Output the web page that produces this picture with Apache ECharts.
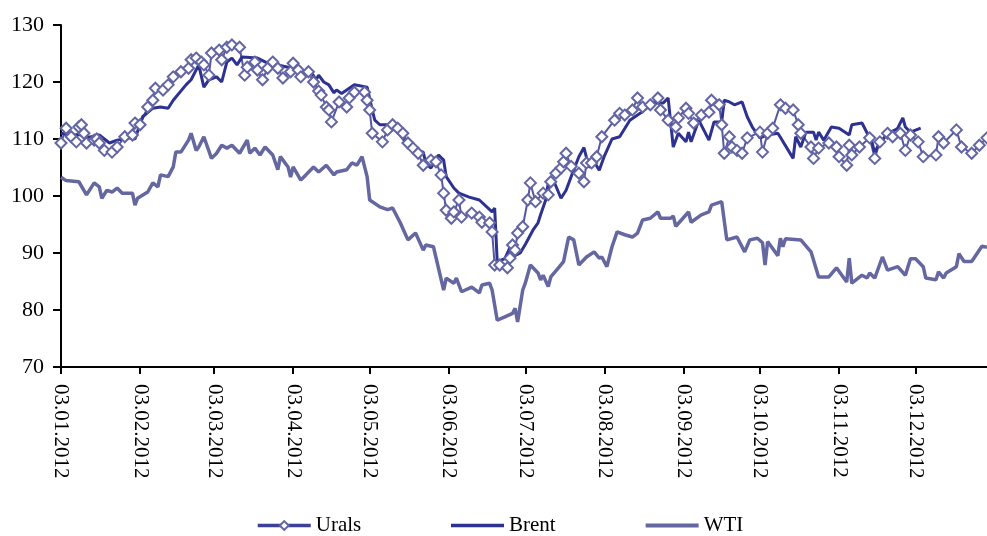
<!DOCTYPE html>
<html>
<head>
<meta charset="utf-8">
<script src="https://cdn.jsdelivr.net/npm/echarts@6/dist/echarts.min.js"></script>
<style>
  html, body { margin: 0; padding: 0; background: #fff; }
  #chart { width: 987px; height: 536px; }
</style>
</head>
<body>
<div id="chart"></div>
<script>
// x = days since 03.01.2012
const tickDays = [0, 31, 60, 91, 121, 152, 182, 213, 244, 274, 305, 335];
const tickLabels = ['03.01.2012', '03.02.2012', '03.03.2012', '03.04.2012', '03.05.2012', '03.06.2012',
  '03.07.2012', '03.08.2012', '03.09.2012', '03.10.2012', '03.11.2012', '03.12.2012'];

// Urals (diamonds)
const uralsDay = [0,2,4,6,7,8,9,10,13,14, 15,17,20,22,25,28,29,31,34,36, 37,40,42,44,47,50,51,53,55,56,
  58,59,62,63,65,67,70,72,73,76, 77,79,81,83,85,87,90,91,93,94, 97,99,101,102,104,105,106,109,112,113,
  115,119,120,121,122,126,128,130,132,134, 136,138,140,142,145,147,149,150,151,153,
  154,156,157,161,164,165,168,169,170,172, 175,176,177,178,179,181,183,184,186,189,
  191,192,194,196,197,198,200,203,205,206, 208,210,212,217,219,221,224,226,228,231,
  234,235,238,241,242,245,246,248,251,254, 255,258,259,260,262,263,265,267,269,274,
  275,277,279,282,284,287,289,290,294,295, 297,301,304,305,308,309,310,313,317,319,
  321,324,326,329,331,333,336,338,343,344, 346,351,353,357,360,363];
const uralsVal = [109.3,111.9,110.4,109.5,112.1,112.5,111.0,109.3,109.8,110.0,
  109.3,108.0,107.7,108.6,110.4,110.7,112.8,112.5,115.6,116.8,
  118.9,118.6,119.5,120.9,121.8,122.4,123.9,124.2,123.5,123.0,
  121.2,125.1,125.6,123.9,126.1,126.5,126.1,121.2,122.6,123.5,
  122.1,120.4,122.4,123.5,122.4,120.7,121.8,123.3,122.1,120.9,
  121.8,120.0,118.4,117.7,115.6,115.1,113.0,116.5,115.6,117.2,
  118.2,118.2,116.8,115.1,111.0,109.5,111.6,112.5,111.9,111.0,
  109.3,108.4,107.5,105.4,106.3,106.0,103.7,100.5,97.5,96.1,
  97.2,99.3,96.3,97.0,96.3,95.4,95.3,93.7,87.9,87.9,
  87.4,89.1,91.4,90.5,93.5,94.6,99.3,102.3,99.0,100.5,
  100.2,102.5,104.0,104.9,106.0,107.5,105.2,104.0,102.5,105.8,
  105.8,106.9,110.4,113.3,114.5,114.2,115.1,117.2,115.6,116.0,
  117.2,115.1,113.3,112.1,113.7,115.4,114.5,112.8,114.2,114.7,
  116.8,116.0,112.5,107.5,110.4,108.6,108.0,107.5,110.2,111.2,
  107.7,111.0,111.9,116.0,115.4,115.1,112.5,111.0,108.6,106.6,
  108.4,109.3,108.6,106.9,105.4,108.9,107.2,108.6,110.2,106.6,
  109.5,111.0,110.4,111.0,108.0,110.7,109.5,106.9,107.2,110.4,
  109.3,111.6,108.6,107.5,108.9,110.2];

// Brent
const brentDay = [0,4,7,11,15,19,22,27,29,32, 36,39,42,44,49,51,54,56,58,61,
  63,65,67,69,71,77,81,85,89,94, 98,100,101,103,105,107,108,110,115,120,
  122,123,125,128,132,137,139,142,143,145, 148,150,151,154,156,160,164,169,170,171,
  174,176,177,180,182,185,187,188,190,191, 193,196,198,201,203,205,207,209,211,213,
  216,219,223,227,232,236,238,240,242,245, 246,247,250,254,256,259,260,262,264,267,
  269,271,274,277,281,282,287,288,290,292, 295,296,297,299,302,305,309,310,314,318,
  319,320,324,327,328,330,331,333,337];
const brentVal = [111.0,110.6,110.8,110.3,110.7,109.3,109.8,110.2,110.0,113.9,
  115.4,115.6,115.4,116.8,119.5,120.4,123.0,119.1,120.4,120.9,
  120.0,123.5,124.2,123.0,124.4,124.2,123.3,123.0,122.6,122.1,
  121.8,120.4,121.2,120.0,119.5,118.1,118.6,118.0,119.5,119.1,
  115.1,113.3,112.5,112.5,111.2,108.4,107.7,107.7,105.8,104.9,
  107.2,106.3,103.4,101.4,100.5,99.8,99.3,97.2,97.9,88.5,
  89.0,91.0,89.3,90.0,91.5,94.0,95.3,96.7,99.3,102.3,
  102.8,99.6,101.0,104.6,106.9,108.5,105.0,106.0,104.5,107.0,
  110.0,110.4,113.3,114.5,116.3,116.3,117.2,108.6,111.0,109.5,
  111.2,109.5,113.3,109.8,113.0,113.0,116.8,116.5,116.0,116.5,
  113.9,112.1,110.2,110.7,111.0,110.3,106.6,110.4,108.6,111.2,
  111.2,109.8,111.2,109.8,112.1,111.9,110.7,112.5,112.8,109.3,
  107.5,108.6,111.0,111.6,111.9,113.7,112.1,111.2,111.9];

// WTI
const wtiDay = [0,2,7,10,13,15,16,18,20,22, 24,28,29,30,34,36,38,39,42,44,
  45,47,50,51,53,54,56,59,61,63, 65,67,70,73,74,76,78,80,83,85,
  86,89,90,91,94,96,99,101,104,107, 108,112,114,116,118,120,121,125,128,130,
  133,136,139,142,143,146,150,151,154,155, 157,161,164,165,168,169,171,174,177,178,
  179,181,182,184,187,188,189,191,192,195, 197,199,201,203,206,209,211,212,214,216,
  218,221,224,226,228,231,234,235,239,240, 241,246,247,251,254,255,259,261,265,268,
  270,273,275,276,277,281,282,283,284,290, 294,297,301,304,308,309,310,314,316,317,
  319,322,324,328,331,333,335,338,339,343, 344,346,347,351,352,354,357,361,363];
const wtiVal = [103.3,102.7,102.5,100.2,102.3,101.6,99.6,101.0,100.7,101.4,
  100.5,100.5,98.4,99.6,100.7,102.3,101.6,103.7,103.4,105.1,
  107.7,107.7,109.8,111.0,108.0,108.6,110.4,106.6,107.5,108.9,
  108.4,108.9,107.5,109.8,107.5,108.4,107.2,108.6,107.2,104.6,
  106.9,105.1,103.3,105.1,102.8,103.7,105.1,104.2,105.4,103.7,
  104.2,104.6,105.8,105.4,106.9,103.4,99.3,98.1,97.6,97.9,
  95.3,92.3,93.5,90.5,91.4,91.1,83.5,85.6,84.7,85.6,
  83.2,84.0,83.0,84.4,84.7,83.5,78.2,78.8,79.4,80.3,
  77.9,83.5,84.7,87.9,86.5,85.3,86.1,84.1,85.8,87.4,
  88.5,92.8,92.3,87.9,89.3,90.2,89.1,89.3,87.6,91.1,
  93.7,93.2,92.8,93.5,95.8,96.1,97.2,96.1,96.1,96.5,
  94.7,97.2,95.4,96.7,97.2,98.4,99.0,92.3,92.8,90.2,
  92.3,92.6,91.8,87.9,92.0,89.5,92.6,91.1,92.5,92.3,
  90.2,85.8,85.8,87.4,84.9,89.1,84.7,86.1,85.6,86.5,
  85.6,89.3,87.0,87.6,86.1,89.0,89.0,87.6,85.6,85.3,
  86.7,85.6,86.5,87.6,89.9,88.5,88.5,91.2,91.0];

function zip(days, vals) {
  return days.map((d, i) => [d, vals[i]]);
}

const font = 'Liberation Serif, Times New Roman, serif';
const chart = echarts.init(document.getElementById('chart'));

chart.setOption({
  animation: false,
  grid: {
    left: 61,
    right: 0,
    top: 25,
    bottom: 169,
    outerBoundsMode: 'none'
  },
  legend: {
    left: 251,
    top: 510,
    itemWidth: 53,
    itemHeight: 11,
    itemGap: 88,
    textStyle: { fontFamily: font, fontSize: 21, color: '#000' },
    data: [
      { name: 'Urals', lineStyle: { color: '#3C4096', width: 3.5 } },
      { name: 'Brent', itemStyle: { opacity: 0 }, lineStyle: { color: '#2D3190', width: 3.5 } },
      { name: 'WTI', itemStyle: { opacity: 0 }, lineStyle: { color: '#6567A1', width: 4 } }
    ]
  },
  xAxis: {
    type: 'value',
    min: 0,
    max: 363,
    axisLine: { lineStyle: { color: '#000', width: 2 } },
    axisTick: { customValues: tickDays, length: 7, lineStyle: { color: '#000', width: 2 } },
    axisLabel: {
      customValues: tickDays,
      rotate: -90,
      margin: 17,
      fontFamily: font,
      fontSize: 21,
      color: '#000',
      formatter: function (v) {
        const i = tickDays.indexOf(Math.round(v));
        return i >= 0 ? tickLabels[i] : '';
      }
    },
    splitLine: { show: false }
  },
  yAxis: {
    type: 'value',
    min: 70,
    max: 130,
    interval: 10,
    axisLine: { show: true, lineStyle: { color: '#000', width: 2 } },
    axisTick: { show: true, length: 8, lineStyle: { color: '#000', width: 2 } },
    axisLabel: { margin: 17, fontFamily: font, fontSize: 22, color: '#000' },
    splitLine: { show: false }
  },
  series: [
    {
      name: 'Urals',
      type: 'line',
      data: zip(uralsDay, uralsVal),
      symbol: 'diamond',
      symbolSize: 11,
      showAllSymbol: true,
      color: '#5457A0',
      lineStyle: { color: '#5457A0', width: 2 },
      itemStyle: { color: '#fff', borderColor: '#6466A3', borderWidth: 2 }
    },
    {
      name: 'Brent',
      type: 'line',
      data: zip(brentDay, brentVal),
      symbol: 'none',
      color: '#2D3190',
      lineStyle: { color: '#2D3190', width: 3 }
    },
    {
      name: 'WTI',
      type: 'line',
      data: zip(wtiDay, wtiVal),
      symbol: 'none',
      color: '#6567A1',
      lineStyle: { color: '#6567A1', width: 3.5 }
    }
  ]
});
</script>
</body>
</html>
